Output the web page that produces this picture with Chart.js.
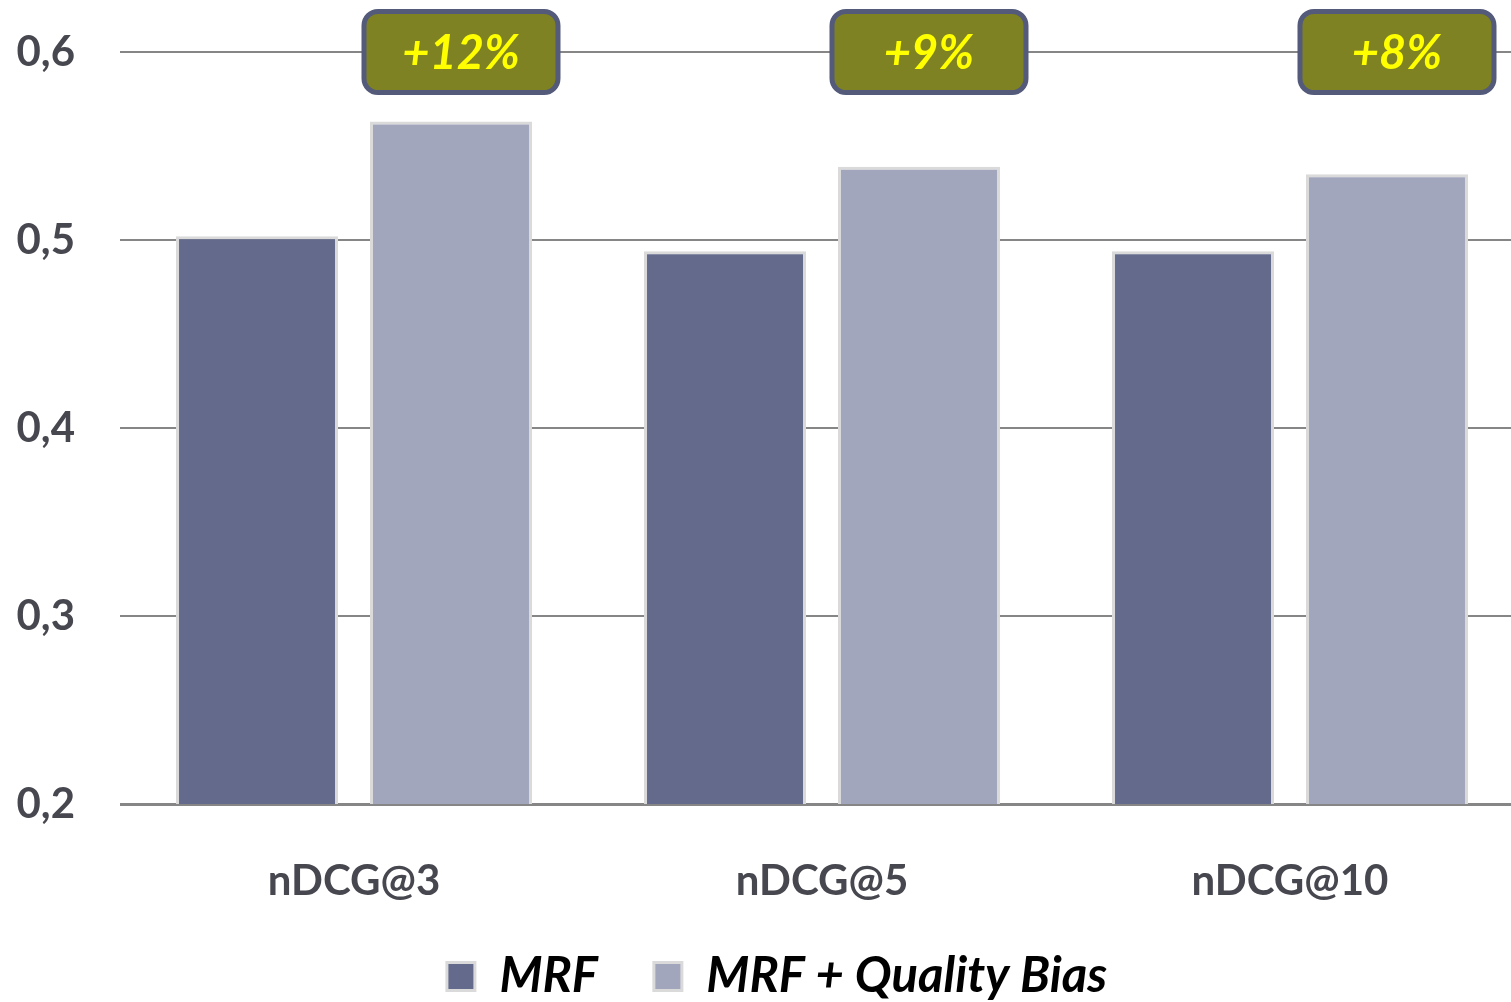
<!DOCTYPE html>
<html>
<head>
<meta charset="utf-8">
<script src="https://cdn.jsdelivr.net/npm/chart.js@4/dist/chart.umd.min.js"></script>
<style>
  html, body { margin: 0; padding: 0; background: #ffffff; overflow: hidden; }
  #wrap { position: absolute; left: 0; top: 0; width: 1524px; height: 1029px; }
</style>
</head>
<body>
<div id="wrap"><canvas id="chart"></canvas></div>
<script>
// Retrieval quality per cutoff
const categories = ['nDCG@3', 'nDCG@5', 'nDCG@10'];
const mrfValues = [0.502, 0.494, 0.494];
const qualityBiasValues = [0.563, 0.539, 0.535];
const gainLabels = ['+12%', '+9%', '+8%'];
const yTicks = [0.2, 0.3, 0.4, 0.5, 0.6];
const seriesNames = ['MRF', 'MRF + Quality Bias'];

const FONT = 'Lato, "Open Sans", sans-serif';

// Rounded olive badges with the relative gain, centred on the top gridline
const gainBadges = {
  id: 'gainBadges',
  afterDatasetsDraw(chart) {
    const ctx = chart.ctx;
    const meta = chart.getDatasetMeta(1);
    const y = chart.scales.y.getPixelForValue(yTicks[yTicks.length - 1]);
    const w = 194, h = 81, r = 14;
    meta.data.forEach((bar, i) => {
      const cx = bar.x + 10;
      ctx.save();
      ctx.beginPath();
      ctx.roundRect(cx - w / 2, y - h / 2, w, h, r);
      ctx.fillStyle = '#7f8222';
      ctx.fill();
      ctx.lineWidth = 5;
      ctx.strokeStyle = '#535a7a';
      ctx.stroke();
      ctx.fillStyle = '#ffff00';
      ctx.font = 'italic bold 47px ' + FONT;
      ctx.textAlign = 'center';
      ctx.textBaseline = 'middle';
      ctx.fillText(gainLabels[i], cx, y + 2);
      ctx.restore();
    });
  }
};

// Nudge the legend row right of centre and a little closer to the axis labels
const legendShift = {
  id: 'legendShift',
  afterLayout(chart) {
    const lg = chart.legend;
    if (lg) {
      lg.left += 15;
      lg.right += 15;
      lg.top -= 18;
      lg.bottom -= 18;
    }
  }
};

new Chart(document.getElementById('chart'), {
  type: 'bar',
  data: {
    labels: categories,
    datasets: [
      {
        label: seriesNames[0],
        data: mrfValues,
        backgroundColor: '#636a8c',
        borderColor: '#dadada',
        borderWidth: 3,
        borderSkipped: 'bottom'
      },
      {
        label: seriesNames[1],
        data: qualityBiasValues,
        backgroundColor: '#a2a6bd',
        borderColor: '#dadada',
        borderWidth: 3,
        borderSkipped: 'bottom'
      }
    ]
  },
  options: {
    responsive: true,
    maintainAspectRatio: false,
    animation: false,
    datasets: { bar: { categoryPercentage: 0.829, barPercentage: 0.835 } },
    layout: { padding: { top: 52, left: 0, right: 0, bottom: 0 } },
    plugins: {
      tooltip: { enabled: false },
      legend: {
        position: 'bottom',
        labels: {
          boxWidth: 28,
          boxHeight: 28,
          padding: 56,
          color: '#000000',
          font: { family: FONT, size: 49, style: 'italic', weight: 'bold' }
        }
      }
    },
    scales: {
      x: {
        grid: { display: false },
        border: { display: false },
        ticks: {
          color: '#474750',
          padding: 44,
          font: { family: FONT, size: 42, weight: 'bold' }
        },
        afterFit(scale) { scale.height = 110; }
      },
      y: {
        min: 0.2,
        max: 0.6,
        afterBuildTicks(scale) { scale.ticks = yTicks.map(v => ({ value: v })); },
        grid: {
          color: '#868686',
          lineWidth: ctx => (ctx.tick && ctx.tick.value === 0.2 ? 3 : 2),
          drawTicks: false
        },
        border: { display: false },
        ticks: {
          color: '#474750',
          padding: 45,
          font: { family: FONT, size: 42, weight: 'bold' },
          callback: v => v.toFixed(1).replace('.', ',')
        },
        afterFit(scale) {
          scale.width = 120;
          scale.paddingTop = 0;
          scale.paddingBottom = 0;
        }
      }
    }
  },
  plugins: [gainBadges, legendShift]
});
</script>
</body>
</html>
